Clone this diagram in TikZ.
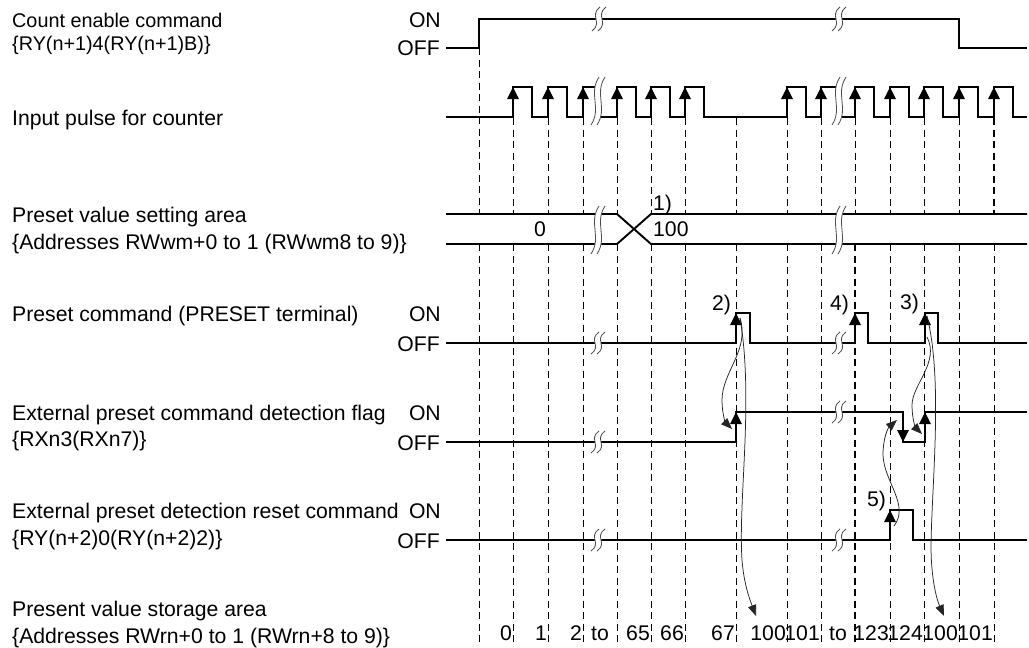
\documentclass[tikz,border=0pt]{standalone}
\usepackage{fontspec}
\setmainfont{Liberation Sans}
\usetikzlibrary{arrows.meta}
\newcommand\tcbrk[3]{%
  \fill[white] (#1+1,#2-#3) .. controls (#1-10,#2-0.3*#3) and (#1+4,#2+0.3*#3) .. (#1-7,#2+#3)
     -- (#1-1,#2+#3) .. controls (#1+10,#2+0.3*#3) and (#1-4,#2-0.3*#3) .. (#1+7,#2-#3) -- cycle;
  \draw[brkline] (#1+1,#2-#3) .. controls (#1-10,#2-0.3*#3) and (#1+4,#2+0.3*#3) .. (#1-7,#2+#3);
  \draw[brkline] (#1+7,#2-#3) .. controls (#1-4,#2-0.3*#3) and (#1+10,#2+0.3*#3) .. (#1-1,#2+#3);
}
\begin{document}
\begin{tikzpicture}[x=1pt,y=-1pt,
  lbl/.style={inner sep=0pt,anchor=base west,font=\fontsize{21.2}{25}\selectfont},
  lblr/.style={inner sep=0pt,anchor=base east,font=\fontsize{21.2}{25}\selectfont},
  lblc/.style={inner sep=0pt,anchor=base,font=\fontsize{21.2}{25}\selectfont},
  smallfont/.style={font=\fontsize{19.8}{24}\selectfont},
  sig/.style={line width=1.9pt,line join=miter},
  edgearr/.style={line width=2.8pt,-{Triangle[length=12pt,width=11pt]}},
  gridl/.style={line width=0.8pt,dash pattern=on 7pt off 4.5pt},
  gridt/.style={line width=1.5pt,dash pattern=on 7pt off 4.5pt},
  curv/.style={line width=0.75pt,black!85,-{Triangle[length=11pt,width=8.5pt]}},
  brkline/.style={line width=0.8pt,black!70},
]
\useasboundingbox (0,0) rectangle (1029,648);

% dashed time lines
\draw[gridl] (479,48) -- (479,214) (479,244) -- (479,646);
\foreach \x in {513,548,583,617,651,685,736,787,821,890,924,959}
  \draw[gridl] (\x,118) -- (\x,214) (\x,244) -- (\x,646);
\draw[gridl] (855,118) -- (855,214);
\draw[gridt] (855,244) -- (855,646);
\draw[gridt] (994,118) -- (994,214);
\draw[gridl] (994,244) -- (994,646);

% count enable
\draw[sig] (446,48) -- (479,48) -- (479,19) -- (959,19) -- (959,48) -- (1027,48);

% input pulses
\draw[sig] (446,117)
  \foreach \r/\f in {513/532,548/567,583/598,617/636,651/670,685/704,787/806,821/839,855/874,890/909,924/943,959/978,994/1013}
  { -- (\r,117) -- (\r,87) -- (\f,87) -- (\f,117) } -- (1027,117);
\foreach \r in {513,548,583,617,651,685,787,821,855,890,924,959,994}
  \draw[edgearr] (\r,117) -- (\r,87);

% preset value band
\draw[sig] (446,214) -- (617,214) -- (651,244) -- (1027,244);
\draw[sig] (446,244) -- (617,244) -- (651,214) -- (1027,214);

% preset command
\draw[sig] (446,343) -- (736,343) -- (736,313) -- (750,313) -- (750,343) -- (855,343) -- (855,313)
  -- (868,313) -- (868,343) -- (925,343) -- (925,313) -- (938,313) -- (938,343) -- (1027,343);
\foreach \r in {736,855,925} \draw[edgearr] (\r,343) -- (\r,313);

% detection flag
\draw[sig] (446,442) -- (736,442) -- (736,412) -- (903,412) -- (903,442) -- (925,442) -- (925,412) -- (1027,412);
\draw[edgearr] (736,442) -- (736,412);
\draw[edgearr] (903,412) -- (903,442);
\draw[edgearr] (925,442) -- (925,412);

% reset command
\draw[sig] (446,540) -- (890,540) -- (890,510) -- (913,510) -- (913,540) -- (1027,540);
\draw[edgearr] (890,540) -- (890,510);

% breaks
\tcbrk{599}{19}{12}
\tcbrk{839}{19}{12}
\tcbrk{598}{101}{24}
\tcbrk{839}{101}{24}
\tcbrk{598}{230}{24}
\tcbrk{839}{230}{24}
\tcbrk{598}{343}{11}
\tcbrk{839}{343}{11}
\tcbrk{598}{442}{11}
\tcbrk{839}{412}{11}
\tcbrk{598}{540}{11}
\tcbrk{839}{540}{11}

% causal curves
\draw[curv] (740,318) .. controls (750,350) and (722,372) .. (722,400) .. controls (722,415) and (726,423) .. (732,429);
\draw[curv] (740,318) .. controls (754,400) and (738,500) .. (742,560) .. controls (744,585) and (750,600) .. (756,616);
\draw[curv] (927,337) .. controls (940,362) and (912,385) .. (912,405) .. controls (912,420) and (916,428) .. (922,434);
\draw[curv] (927,316) .. controls (943,380) and (932,480) .. (931,545) .. controls (931,580) and (937,600) .. (944,616);
\draw[curv] (894,526) .. controls (910,505) and (884,482) .. (883,455) .. controls (883,438) and (888,428) .. (897,420);

% left labels
\node[lbl,smallfont] (t1) at (12,27.5) {Count enable command};
\node[lbl,smallfont] (t1b) at (12,50.5) {\{RY(n+1)4(RY(n+1)B)\}};
\node[lblr] (on1) at (441,27.3) {ON};
\node[lblr] (off1) at (440,55.7) {OFF};
\node[lbl] (t2) at (12,125) {Input pulse for counter};
\node[lbl] (t3) at (12,222.7) {Preset value setting area};
\node[lbl] (t3b) at (12,249.3) {\{Addresses RWwm+0 to 1 (RWwm8 to 9)\}};
\node[lbl] (t4) at (12,321.7) {Preset command (PRESET terminal)};
\node[lblr] (on4) at (441,321.7) {ON};
\node[lblr] (off4) at (440,351.7) {OFF};
\node[lbl] (t5) at (12,420) {External preset command detection flag};
\node[lbl] (t5b) at (12,446.7) {\{RXn3(RXn7)\}};
\node[lblr] (on5) at (441,420) {ON};
\node[lblr] (off5) at (440,450) {OFF};
\node[lbl] (t6) at (12,518.3) {External preset detection reset command};
\node[lbl] (t6b) at (12,545) {\{RY(n+2)0(RY(n+2)2)\}};
\node[lblr] (on6) at (441,518.3) {ON};
\node[lblr] (off6) at (440,548.3) {OFF};
\node[lbl] (t7) at (12,616.7) {Present value storage area};
\node[lbl] (t7b) at (12,643.3) {\{Addresses RWrn+0 to 1 (RWrn+8 to 9)\}};

% band values and step labels
\node[lblc] (v0) at (540,236.6) {0};
\node[lbl] (v100) at (653,236.6) {100};
\node[lbl] (s1) at (653,210.5) {1)};
\node[lbl] (s2) at (712,310) {2)};
\node[lbl] (s4) at (830,310.5) {4)};
\node[lbl] (s3) at (900,309.5) {3)};
\node[lbl] (s5) at (867,506.5) {5)};

% present values
\foreach \x/\t [count=\i] in {512/0,547/1,582/2,650/65,684/66,735/67,786/100,820/101,889/123,923/124,958/100,993/101}
  \node[lblr] (n\i) at (\x,640) {\t};
\node[lblc] (to1) at (600,640) {to};
\node[lblc] (to2) at (838,640) {to};
\end{tikzpicture}
\end{document}
